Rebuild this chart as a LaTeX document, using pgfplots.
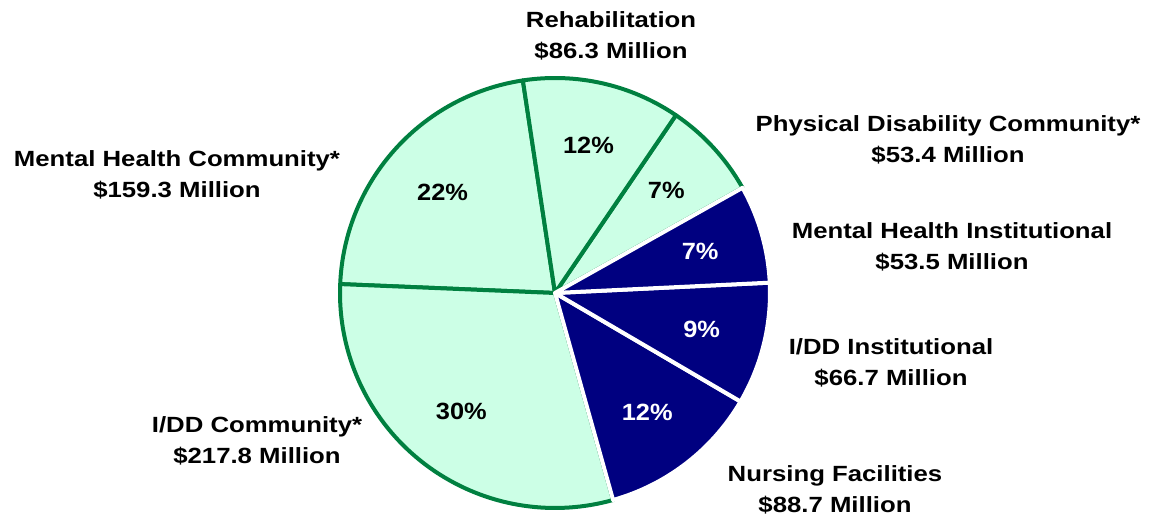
\documentclass[border=0pt]{standalone}
\usepackage{fontspec}
\setmainfont[FakeStretch=1.17]{Liberation Sans}
\newfontfamily\pctfont[FakeStretch=1.08]{Liberation Sans}
\usepackage{pgfplots}
\usepackage{pgfplotstable}
\pgfplotsset{compat=1.18}

\definecolor{mint}{RGB}{204,255,230}
\definecolor{pgreen}{RGB}{0,128,64}
\definecolor{pnavy}{RGB}{0,0,128}
\colorlet{pct0}{black}
\colorlet{pct1}{white}

% slices counter-clockwise from the top; type 0 = community (green), 1 = institutional (navy)
% lx, ly: centre of the outer label, in pixels from the lower left corner
\pgfplotstableread{
name value type lx ly
{Mental Health Community*} 159.3 0 177 343.5
{I/DD Community*} 217.8 0 257 77.5
{Nursing Facilities} 88.7 1 835 28.5
{I/DD Institutional} 66.7 1 891 155.5
{Mental Health Institutional} 53.5 1 952 271.5
{Physical Disability Community*} 53.4 0 948 378.5
{Rehabilitation} 86.3 0 611 482
}\piedata

\begin{document}
\begin{tikzpicture}
% totals and angles
\pgfplotstablegetrowsof{\piedata}
\pgfmathtruncatemacro\nrows{\pgfplotsretval-1}
\gdef\total{0}
\foreach \i in {0,...,\nrows}{%
  \pgfplotstablegetelem{\i}{value}\of\piedata
  \pgfmathsetmacro\t{\total+\pgfplotsretval}
  \xdef\total{\t}}
\gdef\cur{98.6}
\foreach \i in {0,...,\nrows}{%
  \pgfplotstablegetelem{\i}{value}\of\piedata
  \let\v\pgfplotsretval
  \pgfmathsetmacro\fr{\v/\total}
  \pgfmathsetmacro\e{\cur+360*\fr}
  \pgfmathsetmacro\m{(\cur+\e)/2}
  \pgfmathtruncatemacro\p{round(100*\fr)}
  \expandafter\xdef\csname sa\i\endcsname{\cur}
  \expandafter\xdef\csname ea\i\endcsname{\e}
  \expandafter\xdef\csname ma\i\endcsname{\m}
  \expandafter\xdef\csname pc\i\endcsname{\p}
  \expandafter\xdef\csname va\i\endcsname{\v}
  \pgfplotstablegetelem{\i}{type}\of\piedata
  \expandafter\xdef\csname ty\i\endcsname{\pgfplotsretval}
  \pgfplotstablegetelem{\i}{lx}\of\piedata
  \expandafter\xdef\csname lx\i\endcsname{\pgfplotsretval}
  \pgfplotstablegetelem{\i}{ly}\of\piedata
  \expandafter\xdef\csname ly\i\endcsname{\pgfplotsretval}
  \pgfplotstablegetelem{\i}{name}\of\piedata
  \expandafter\global\expandafter\let\csname nm\i\endcsname\pgfplotsretval
  \xdef\cur{\e}}

\begin{axis}[
    hide axis,
    x=0.5pt, y=0.5pt,
    xmin=0, xmax=1151, ymin=0, ymax=518,
    clip=false,
    /pgf/number format/assume math mode=true,
  ]
  \path (axis cs:0,0) rectangle (axis cs:1151,518);
  % community slices
  \pgfplotsinvokeforeach{0,...,6}{
    \ifnum\csname ty#1\endcsname=0
      \filldraw[fill=mint, draw=pgreen, line width=2pt, line join=round]
        (axis cs:555,225) -- ++(\csname sa#1\endcsname:107.5pt)
        arc[start angle=\csname sa#1\endcsname, end angle=\csname ea#1\endcsname, radius=107.5pt] -- cycle;
    \fi
  }
  % institutional slices
  \pgfplotsinvokeforeach{0,...,6}{
    \ifnum\csname ty#1\endcsname=1
      \filldraw[fill=pnavy, draw=white, line width=2pt, line join=round]
        (axis cs:555,225) -- ++(\csname sa#1\endcsname:107.5pt)
        arc[start angle=\csname sa#1\endcsname, end angle=\csname ea#1\endcsname, radius=107.5pt] -- cycle;
    \fi
  }
  % percentages and outer labels
  \pgfplotsinvokeforeach{0,...,6}{
    \node[font=\pctfont\bfseries\fontsize{11.75}{14}\selectfont,
          text=pct\csname ty#1\endcsname,
          shift={(\csname ma#1\endcsname:75.5pt)}]
      at (axis cs:555,225) {\csname pc#1\endcsname\%};
    \node[align=center, font=\bfseries\fontsize{11}{15.5}\selectfont]
      at (axis cs:\csname lx#1\endcsname,\csname ly#1\endcsname)
      {\csname nm#1\endcsname\\
       \$\pgfmathprintnumber[fixed,precision=1,fixed zerofill,assume math mode=true]{\csname va#1\endcsname} Million};
  }
\end{axis}
\end{tikzpicture}
\end{document}
